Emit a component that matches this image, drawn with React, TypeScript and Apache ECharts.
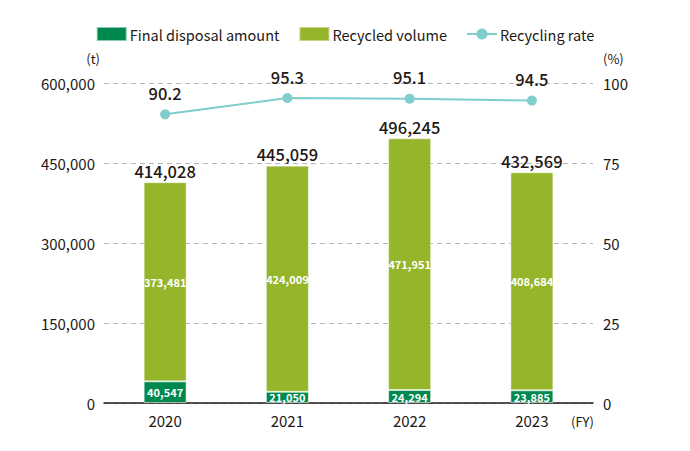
import React, { useEffect, useRef } from "react";
import * as echarts from "echarts";

const years = ["2020", "2021", "2022", "2023"];
const finalDisposal = [40547, 21050, 24294, 23885];
const recycled = [373481, 424009, 471951, 408684];
const totals = [414028, 445059, 496245, 432569];
const recyclingRate = [90.2, 95.3, 95.1, 94.5];

const FONT = "'Noto Sans CJK JP', 'Noto Sans', sans-serif";
const fmt = (v: number) => v.toLocaleString("en-US");

export default function App() {
  const ref = useRef<HTMLDivElement>(null);
  useEffect(() => {
    if (!ref.current) return;
    const chart = echarts.init(ref.current, null, { renderer: "svg" });
    const insideLabel = {
      show: true,
      position: "inside",
      color: "#fff",
      fontSize: 11,
      fontWeight: "bold",
      fontFamily: FONT,
      formatter: (p: any) => fmt(p.value),
    };
    chart.setOption({
      animation: false,
      textStyle: { fontFamily: FONT },
      legend: {
        top: 21,
        left: "center",
        itemGap: 19,
        itemWidth: 30,
        itemHeight: 14,
        textStyle: { fontSize: 14.5, color: "#231815", fontFamily: FONT, padding: [0, 0, 0, -2] },
        data: [
          { name: "Final disposal amount", icon: "rect" },
          { name: "Recycled volume", icon: "rect" },
          { name: "Recycling rate" },
        ],
      },
      grid: { left: 104, right: 97, top: 83, bottom: 48 },
      xAxis: {
        type: "category",
        data: years,
        boundaryGap: true,
        axisLine: { lineStyle: { color: "#231815", width: 1.5 } },
        axisTick: { inside: true, length: 7, lineStyle: { color: "#231815" } },
        axisLabel: { fontSize: 15, color: "#231815", margin: 10, fontFamily: FONT },
        name: "(FY)",
        nameLocation: "end",
        nameGap: 0,
        nameTextStyle: {
          fontSize: 13,
          color: "#231815",
          verticalAlign: "top",
          padding: [12, 0, 0, -22],
          fontFamily: FONT,
        },
      },
      yAxis: [
        {
          type: "value",
          min: 0,
          max: 600000,
          interval: 150000,
          axisLine: { show: false },
          axisTick: { show: false },
          axisLabel: {
            fontSize: 15,
            color: "#231815",
            margin: 9,
            formatter: (v: number) => fmt(v),
            fontFamily: FONT,
          },
          splitLine: { lineStyle: { color: "#b5b5b5", type: [5, 4], width: 1 } },
          name: "(t)",
          nameLocation: "end",
          nameGap: 18,
          nameTextStyle: { fontSize: 13, color: "#231815", align: "right", padding: [0, 4, 0, 0], fontFamily: FONT },
        },
        {
          type: "value",
          min: 0,
          max: 100,
          interval: 25,
          axisLine: { show: false },
          axisTick: { show: false },
          axisLabel: { fontSize: 15, color: "#231815", margin: 10, fontFamily: FONT },
          splitLine: { show: false },
          name: "(%)",
          nameLocation: "end",
          nameGap: 18,
          nameTextStyle: { fontSize: 13, color: "#231815", align: "left", padding: [0, 0, 0, 10], fontFamily: FONT },
        },
      ],
      series: [
        {
          name: "Final disposal amount",
          type: "bar",
          stack: "t",
          barWidth: 43,
          data: finalDisposal,
          itemStyle: { color: "#00894f", borderColor: "rgba(255,255,255,0.55)", borderWidth: 1 },
          label: insideLabel,
        },
        {
          name: "Recycled volume",
          type: "bar",
          stack: "t",
          barWidth: 43,
          data: recycled,
          itemStyle: { color: "#95b52a", borderColor: "rgba(255,255,255,0.45)", borderWidth: 1 },
          label: insideLabel,
        },
        {
          name: "Total",
          type: "bar",
          stack: "t",
          barWidth: 43,
          data: totals.map(() => 0),
          itemStyle: { color: "transparent" },
          label: {
            show: true,
            position: "top",
            distance: 3,
            color: "#231815",
            fontSize: 16.5,
            fontWeight: 500,
            fontFamily: FONT,
            formatter: (p: any) => fmt(totals[p.dataIndex]),
          },
        },
        {
          name: "Recycling rate",
          type: "line",
          yAxisIndex: 1,
          data: recyclingRate,
          symbol: "circle",
          symbolSize: 10,
          lineStyle: { color: "#7fcdcd", width: 2 },
          itemStyle: { color: "#7fcdcd" },
          label: {
            show: true,
            position: "top",
            distance: 8,
            color: "#231815",
            fontSize: 16.5,
            fontWeight: 500,
            fontFamily: FONT,
            formatter: (p: any) => p.value.toFixed(1),
          },
        },
      ],
    });
    return () => chart.dispose();
  }, []);
  return <div ref={ref} style={{ width: 690, height: 451, position: "absolute", left: 0, top: 0, background: "#fff" }} />;
}
